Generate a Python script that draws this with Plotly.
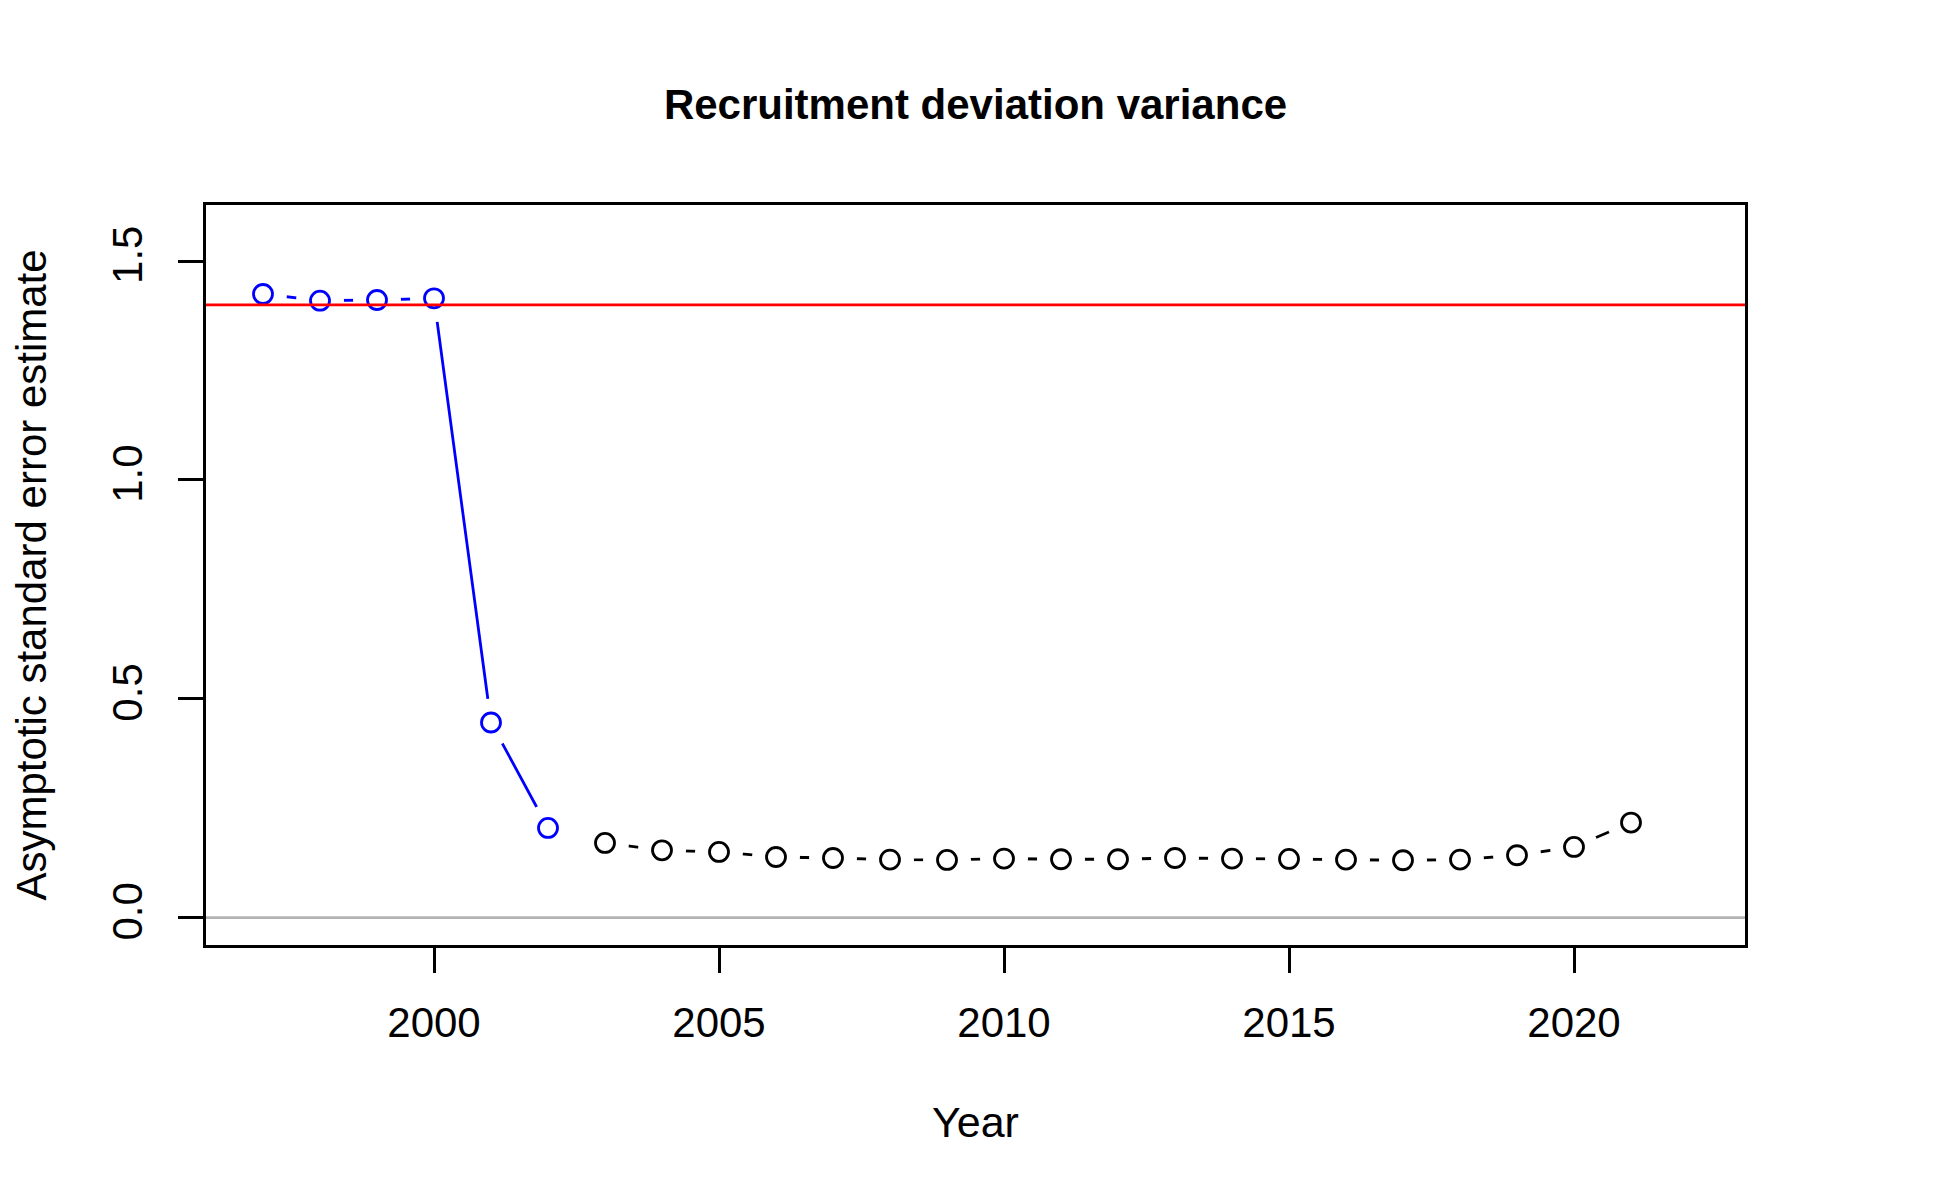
import plotly.graph_objects as go

# datos
years_early = [1997, 1998, 1999, 2000, 2001, 2002]
se_early = [1.4247, 1.4094, 1.4110, 1.4149, 0.4457, 0.2048]

years_main = [2003, 2004, 2005, 2006, 2007, 2008, 2009, 2010, 2011, 2012,
              2013, 2014, 2015, 2016, 2017, 2018, 2019, 2020, 2021]
se_main = [0.1705, 0.1538, 0.1500, 0.1385, 0.1362, 0.1325, 0.1317, 0.1348,
           0.1333, 0.1333, 0.1362, 0.1348, 0.1340, 0.1325, 0.1310, 0.1325,
           0.1424, 0.1614, 0.2171]

sigma_r = 1.4
x_ticks = [2000, 2005, 2010, 2015, 2020]
y_ticks = [0.0, 0.5, 1.0, 1.5]
y_ticktext = ["0.0", "0.5", "1.0", "1.5"]

FONT = "Liberation Sans, Arial, Helvetica, sans-serif"
BLUE = "#0000FF"
LW = 2.8

fig = go.Figure()

# segmentos de linea (type="b" de R: la linea se corta cerca de cada punto)
fig.add_trace(go.Scatter(x=years_early[:4], y=se_early[:4], mode="lines",
                         line=dict(color=BLUE, width=LW), hoverinfo="skip"))
fig.add_trace(go.Scatter(x=years_early[3:], y=se_early[3:], mode="lines",
                         line=dict(color=BLUE, width=LW), hoverinfo="skip"))
fig.add_trace(go.Scatter(x=years_main, y=se_main, mode="lines",
                         line=dict(color="black", width=LW), hoverinfo="skip"))

# circulos blancos que tapan la linea alrededor de los puntos
fig.add_trace(go.Scatter(x=years_early + years_main, y=se_early + se_main,
                         mode="markers",
                         marker=dict(size=48, color="white", line=dict(width=0)),
                         hoverinfo="skip"))

# puntos
fig.add_trace(go.Scatter(x=years_early, y=se_early, mode="markers",
                         marker=dict(symbol="circle", size=19, color="white",
                                     line=dict(color=BLUE, width=LW))))
fig.add_trace(go.Scatter(x=years_main, y=se_main, mode="markers",
                         marker=dict(symbol="circle", size=19, color="white",
                                     line=dict(color="black", width=LW))))

# lineas de referencia
fig.add_shape(type="line", xref="paper", x0=0, x1=1, yref="y", y0=0, y1=0,
              line=dict(color="#B3B3B3", width=LW), layer="above")
fig.add_shape(type="line", xref="paper", x0=0, x1=1, yref="y", y0=sigma_r, y1=sigma_r,
              line=dict(color="red", width=LW), layer="above")

fig.update_layout(
    width=1950, height=1200,
    margin=dict(l=198, r=213, t=197, b=263),
    paper_bgcolor="white", plot_bgcolor="white",
    showlegend=False,
    font=dict(family=FONT, size=42, color="black"),
    title=dict(text="<b>Recruitment deviation variance</b>",
               x=0.5, xref="paper", xanchor="center",
               y=1 - 96 / 1200, yref="container", yanchor="middle",
               font=dict(family=FONT, size=42, color="black")),
)

fig.update_xaxes(
    range=[1996, 2023], tickvals=x_ticks,
    showgrid=False, zeroline=False,
    showline=True, linecolor="black", linewidth=2.6, mirror=True,
    ticks="outside", ticklen=25, tickwidth=2.6, tickcolor="black",
    tickfont=dict(size=42), ticklabelstandoff=14,
    title=dict(text="Year", font=dict(size=43), standoff=62),
)
fig.update_yaxes(
    range=[-0.0626, 1.628], tickvals=y_ticks, ticktext=y_ticktext,
    showgrid=False, zeroline=False,
    showline=True, linecolor="black", linewidth=2.6, mirror=True,
    ticks="outside", ticklen=25, tickwidth=2.6, tickcolor="black",
    tickangle=-90, tickfont=dict(size=42), ticklabelstandoff=19,
    title=dict(text="Asymptotic standard error estimate", font=dict(size=42), standoff=50),
)

fig.write_html("out.html")
